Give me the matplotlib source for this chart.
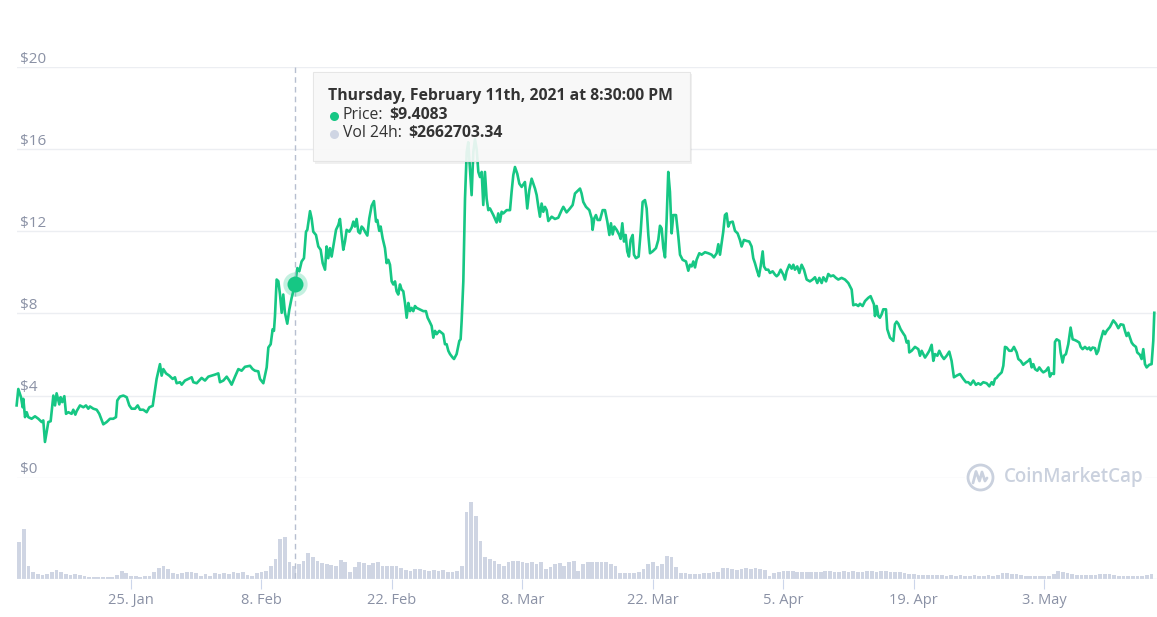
import numpy as np
import pandas as pd
import matplotlib
matplotlib.use("Agg")
import matplotlib.pyplot as plt
import matplotlib.dates as mdates
import matplotlib.transforms as mtransforms
from matplotlib.patches import Rectangle
from matplotlib.lines import Line2D

# ---------------- data ----------------
START = pd.Timestamp("2021-01-01")

# price samples: fractional days since 2021-01-01, price in USD
price_day = [
    11.73, 11.91, 12.20, 12.38, 12.45, 12.63, 12.81, 12.98, 13.34, 13.70,
    14.06, 14.42, 14.59, 14.77, 14.95, 15.13, 15.38, 15.67, 15.85, 16.02,
    16.31, 16.45, 16.63, 16.85, 17.03, 17.28, 17.63, 17.81, 18.03, 18.17,
    18.53, 18.89, 19.17, 19.42, 19.60, 19.96, 20.32, 20.60, 21.03, 21.39,
    21.75, 22.10, 22.39, 22.53, 22.82, 23.18, 23.54, 23.82, 24.07, 24.43,
    24.72, 24.97, 25.32, 25.68, 25.97, 26.33, 26.75, 27.11, 27.29, 27.47,
    27.76, 28.11, 28.47, 28.72, 28.90, 29.26, 29.44, 29.79, 30.15, 30.51,
    30.69, 31.05, 31.58, 31.94, 32.30, 32.66, 33.01, 33.37, 33.55, 33.91,
    34.27, 34.55, 34.80, 35.16, 35.52, 35.87, 36.23, 36.77, 37.05, 37.30,
    37.66, 37.84, 38.20, 38.56, 38.74, 38.99, 39.20, 39.34, 39.45, 39.63,
    39.81, 39.99, 40.17, 40.34, 40.52, 40.77, 40.99, 41.24, 41.60, 41.85,
    42.06, 42.31, 42.56, 42.78, 42.92, 43.21, 43.38, 43.56, 43.85, 44.10,
    44.35, 44.57, 44.82, 44.99, 45.17, 45.35, 45.53, 45.71, 46.00, 46.25,
    46.42, 46.60, 46.78, 46.96, 47.14, 47.43, 47.68, 47.86, 48.03, 48.21,
    48.39, 48.57, 48.75, 48.93, 49.11, 49.36, 49.57, 49.82, 50.07, 50.29,
    50.43, 50.64, 50.79, 51.00, 51.25, 51.43, 51.61, 51.79, 51.97, 52.15,
    52.33, 52.50, 52.68, 52.86, 53.04, 53.22, 53.40, 53.58, 53.76, 53.94,
    54.11, 54.29, 54.47, 54.65, 55.01, 55.37, 55.65, 55.83, 56.01, 56.26,
    56.44, 56.62, 56.80, 57.08, 57.33, 57.51, 57.69, 57.87, 58.05, 58.23,
    58.51, 58.66, 58.94, 59.23, 59.37, 59.48, 59.66, 59.84, 60.02, 60.19,
    60.37, 60.55, 60.73, 60.91, 61.09, 61.27, 61.45, 61.63, 61.80, 61.98,
    62.16, 62.34, 62.52, 62.88, 63.23, 63.41, 63.59, 63.77, 63.95, 64.31,
    64.67, 64.84, 65.02, 65.20, 65.45, 65.67, 65.92, 66.27, 66.52, 66.74,
    66.99, 67.35, 67.53, 67.71, 67.88, 68.06, 68.24, 68.42, 68.60, 68.78,
    69.14, 69.49, 69.85, 70.21, 70.39, 70.74, 71.10, 71.39, 71.64, 72.00,
    72.18, 72.35, 72.53, 72.82, 73.18, 73.43, 73.53, 73.71, 73.89, 74.07,
    74.32, 74.61, 74.86, 75.11, 75.33, 75.50, 75.68, 75.86, 76.11, 76.40,
    76.54, 76.72, 76.90, 77.08, 77.25, 77.43, 77.61, 77.83, 77.97, 78.18,
    78.47, 78.69, 78.90, 79.15, 79.33, 79.51, 79.69, 79.97, 80.33, 80.58,
    80.76, 80.94, 81.12, 81.30, 81.48, 81.65, 81.83, 82.01, 82.19, 82.48,
    82.73, 82.91, 83.19, 83.55, 83.80, 83.98, 84.16, 84.34, 84.52, 84.69,
    84.98, 85.23, 85.59, 85.95, 86.30, 86.55, 86.84, 87.02, 87.20, 87.38,
    87.55, 87.73, 87.91, 88.09, 88.27, 88.56, 88.81, 89.09, 89.34, 89.52,
    89.77, 90.06, 90.34, 90.59, 90.77, 90.95, 91.20, 91.38, 91.56, 91.78,
    91.92, 92.13, 92.38, 92.56, 92.85, 93.10, 93.28, 93.46, 93.71, 93.99,
    94.17, 94.35, 94.64, 94.89, 95.07, 95.24, 95.49, 95.71, 95.96, 96.21,
    96.50, 96.85, 97.14, 97.39, 97.64, 97.86, 98.11, 98.29, 98.58, 98.82,
    99.07, 99.36, 99.64, 99.89, 100.25, 100.61, 100.97, 101.33, 101.50, 101.79,
    102.04, 102.22, 102.50, 102.76, 103.11, 103.36, 103.58, 103.72, 103.83, 104.01,
    104.19, 104.36, 104.54, 104.72, 105.01, 105.15, 105.44, 105.80, 105.97, 106.15,
    106.33, 106.58, 106.87, 107.05, 107.23, 107.41, 107.51, 107.76, 108.12, 108.48,
    108.66, 108.84, 109.02, 109.20, 109.45, 109.66, 109.91, 110.09, 110.27, 110.52,
    110.73, 110.98, 111.23, 111.52, 111.80, 112.05, 112.30, 112.59, 112.95, 113.31,
    113.59, 113.84, 114.09, 114.38, 114.66, 114.91, 115.16, 115.45, 115.81, 116.10,
    116.35, 116.53, 116.70, 116.88, 117.06, 117.42, 117.60, 117.78, 117.95, 118.24,
    118.49, 118.74, 119.03, 119.21, 119.46, 119.74, 120.03, 120.28, 120.46, 120.64,
    120.82, 121.00, 121.25, 121.46, 121.71, 121.89, 122.18, 122.43, 122.60, 122.78,
    123.03, 123.14, 123.32, 123.61, 123.75, 123.96, 124.11, 124.32, 124.57, 124.82,
    125.04, 125.29, 125.47, 125.75, 125.90, 126.11, 126.36, 126.61, 126.82, 126.97,
    127.18, 127.43, 127.61, 127.79, 127.97, 128.15, 128.33, 128.51, 128.69, 129.04,
    129.40, 129.69, 129.94, 130.19, 130.48, 130.65, 130.83, 131.01, 131.19, 131.37,
    131.55, 131.83, 131.97, 132.26, 132.44, 132.62, 132.80, 132.98, 133.26, 133.51,
    133.69, 133.80,
]
price_usd = [
    3.52, 4.32, 3.92, 3.43, 3.84, 2.95, 3.19, 2.95, 2.87, 2.99,
    2.87, 2.71, 2.79, 1.74, 2.23, 2.71, 2.75, 4.00, 3.52, 4.11,
    3.57, 3.92, 3.68, 3.97, 3.11, 3.19, 3.11, 3.31, 3.07, 3.24,
    3.52, 3.43, 3.52, 3.36, 3.47, 3.36, 3.31, 3.11, 2.60, 2.71,
    2.87, 2.87, 2.95, 3.76, 3.95, 4.00, 3.92, 3.52, 3.36, 3.36,
    3.52, 3.31, 3.31, 3.19, 3.43, 3.50, 4.81, 5.53, 4.97, 5.29,
    5.08, 4.97, 4.81, 4.89, 4.60, 4.65, 4.53, 4.73, 4.81, 4.89,
    4.65, 4.60, 4.86, 4.73, 4.92, 4.97, 5.02, 5.08, 4.65, 4.73,
    4.92, 4.73, 4.53, 4.92, 5.29, 5.21, 5.40, 5.45, 5.29, 5.21,
    5.18, 4.81, 4.60, 5.37, 6.34, 6.50, 7.23, 7.15, 7.87, 9.65,
    9.57, 8.92, 8.03, 8.92, 8.03, 7.50, 8.19, 8.76, 9.41, 10.21,
    10.05, 10.53, 10.69, 11.98, 12.07, 12.98, 12.63, 11.98, 11.82, 11.26,
    11.10, 10.45, 10.13, 11.26, 10.69, 11.18, 10.77, 11.26, 12.07, 12.31,
    12.60, 11.82, 11.10, 11.50, 12.07, 11.98, 12.18, 12.47, 12.23, 12.60,
    11.98, 11.90, 12.23, 12.14, 11.98, 11.79, 12.63, 13.24, 13.47, 12.47,
    12.55, 12.02, 12.23, 11.66, 11.18, 10.45, 10.61, 10.37, 9.56, 9.41,
    9.56, 9.08, 8.92, 9.41, 9.16, 9.08, 8.51, 7.79, 8.51, 8.11,
    8.27, 8.11, 8.36, 8.27, 8.19, 8.11, 8.11, 7.79, 7.63, 7.39,
    6.82, 7.15, 6.99, 7.15, 7.06, 6.99, 6.50, 6.50, 6.18, 6.02,
    5.85, 5.78, 6.02, 6.66, 6.74, 7.63, 9.56, 13.59, 15.85, 16.34,
    15.05, 13.76, 15.85, 16.50, 16.01, 14.89, 14.64, 14.89, 13.28, 14.89,
    13.59, 13.03, 13.11, 12.79, 12.43, 12.87, 12.47, 12.95, 12.87, 13.03,
    13.03, 13.92, 14.73, 15.13, 14.80, 14.32, 14.16, 14.40, 13.11, 14.00,
    14.56, 14.08, 13.76, 13.19, 12.71, 13.35, 12.95, 13.19, 13.03, 12.50,
    12.71, 12.60, 12.66, 13.03, 13.19, 12.92, 13.11, 13.28, 13.84, 14.00,
    14.08, 13.84, 13.43, 13.19, 13.03, 12.63, 12.07, 12.63, 12.79, 12.55,
    12.55, 13.03, 13.03, 12.47, 11.82, 12.39, 11.85, 12.23, 12.07, 11.82,
    11.63, 12.39, 11.50, 11.82, 11.02, 10.77, 11.58, 11.82, 10.86, 10.69,
    10.77, 11.98, 13.43, 13.52, 13.11, 11.82, 10.93, 11.02, 11.18, 11.58,
    12.27, 12.14, 11.18, 10.73, 12.63, 14.89, 13.92, 11.90, 12.79, 12.79,
    11.74, 10.86, 10.61, 10.53, 10.08, 10.37, 10.29, 10.53, 10.24, 10.61,
    10.93, 10.86, 10.98, 10.93, 10.86, 10.73, 10.93, 11.37, 10.86, 11.42,
    11.98, 12.79, 12.87, 12.23, 12.43, 12.47, 12.02, 11.90, 11.58, 11.26,
    11.58, 11.53, 11.50, 11.26, 10.69, 10.45, 10.05, 9.81, 10.29, 11.02,
    10.29, 10.13, 10.13, 9.97, 10.05, 9.89, 9.81, 9.89, 10.13, 9.89,
    9.65, 10.05, 10.37, 10.18, 10.37, 10.13, 10.29, 9.97, 10.37, 10.13,
    9.65, 9.56, 9.65, 9.76, 9.48, 9.73, 9.48, 9.76, 9.56, 9.92,
    9.81, 9.85, 9.73, 9.65, 9.73, 9.65, 9.48, 9.16, 8.40, 8.44,
    8.36, 8.47, 8.36, 8.60, 8.76, 8.84, 8.60, 8.44, 7.87, 8.36,
    7.87, 7.79, 7.95, 8.20, 8.20, 7.23, 6.82, 6.66, 7.47, 7.60,
    7.50, 7.23, 7.02, 6.90, 6.58, 6.66, 6.10, 6.18, 6.37, 6.26,
    5.94, 6.18, 6.02, 5.85, 6.02, 6.18, 6.47, 5.69, 6.02, 5.94,
    6.18, 5.94, 5.78, 5.94, 6.14, 5.69, 4.89, 4.97, 5.05, 4.81,
    4.65, 4.65, 4.53, 4.73, 4.52, 4.60, 4.53, 4.65, 4.60, 4.45,
    4.65, 4.53, 4.81, 4.86, 4.97, 5.13, 5.45, 6.37, 6.34, 6.18,
    6.18, 6.37, 6.10, 5.78, 5.69, 5.50, 5.61, 5.69, 5.78, 5.37,
    5.53, 5.29, 5.21, 5.37, 5.21, 5.13, 5.21, 5.37, 4.92, 5.08,
    5.05, 6.61, 6.74, 6.66, 6.10, 5.61, 5.94, 6.02, 6.50, 7.31,
    6.74, 6.70, 6.66, 6.58, 6.37, 6.26, 6.37, 6.26, 6.34, 6.21,
    6.34, 6.31, 6.02, 6.18, 6.58, 6.86, 7.15, 6.99, 7.15, 7.34,
    7.66, 7.50, 7.28, 7.47, 7.44, 7.15, 6.90, 7.06, 6.82, 6.58,
    6.47, 6.37, 6.10, 5.98, 5.78, 6.26, 5.53, 5.37, 5.50, 5.53,
    6.66, 8.03,
]

# 24h volume (million USD), one bar every half day starting 2021-01-13 00:00
vol_first_day = 12.0
vol_step_days = 0.5
volume_musd = [
    7.84, 10.5, 2.8, 1.4, 1.05, 0.84, 1.05, 1.54, 1.96, 1.4,
    1.05, 0.84, 0.98, 0.84, 0.56, 0.42, 0.42, 0.49, 0.42, 0.35,
    0.42, 0.84, 1.75, 1.26, 0.7, 0.56, 0.49, 0.56, 0.63, 1.4,
    2.24, 2.66, 2.1, 1.26, 1.05, 1.26, 1.4, 1.54, 1.26, 0.7,
    0.98, 0.7, 1.26, 0.98, 1.26, 1.05, 1.4, 1.26, 1.54, 0.84,
    0.7, 1.26, 1.4, 1.75, 2.8, 4.2, 8.4, 8.75, 3.5, 2.66,
    3.15, 3.85, 5.46, 4.55, 3.85, 3.36, 3.15, 2.94, 2.8, 4.06,
    3.5, 1.4, 2.45, 3.5, 3.36, 2.94, 3.36, 3.5, 2.8, 2.66,
    2.8, 2.66, 2.24, 1.96, 1.75, 2.1, 2.1, 1.96, 1.75, 1.96,
    1.68, 1.96, 1.54, 1.4, 1.75, 2.8, 14.0, 16.1, 13.3, 8.05,
    4.55, 4.2, 3.85, 3.15, 2.8, 3.5, 3.85, 3.85, 3.64, 3.36,
    3.5, 3.15, 3.5, 2.1, 2.45, 3.15, 3.36, 2.8, 3.5, 3.85,
    1.75, 3.15, 3.5, 3.64, 3.64, 3.5, 3.5, 3.15, 2.8, 1.26,
    1.19, 1.26, 1.19, 1.4, 2.1, 3.15, 3.64, 2.8, 3.15, 4.9,
    4.55, 2.45, 1.26, 1.19, 1.12, 1.12, 1.12, 1.26, 1.19, 1.4,
    1.54, 2.24, 2.31, 2.1, 1.96, 2.1, 2.24, 2.1, 2.24, 2.1,
    1.96, 0.7, 1.26, 1.54, 1.68, 1.75, 1.61, 1.4, 1.54, 1.4,
    1.54, 1.4, 1.54, 1.68, 1.75, 1.4, 1.54, 1.68, 1.54, 1.68,
    1.54, 1.54, 1.68, 1.75, 1.54, 1.68, 1.75, 1.54, 1.4, 1.54,
    1.26, 1.05, 0.98, 0.84, 0.84, 0.77, 0.84, 0.77, 0.84, 0.7,
    0.77, 0.7, 0.77, 0.7, 0.7, 0.77, 0.7, 0.7, 0.77, 0.7,
    0.84, 1.26, 1.19, 1.05, 0.98, 0.84, 0.7, 0.63, 0.63, 0.7,
    0.63, 0.7, 0.98, 1.75, 1.4, 1.26, 0.98, 0.84, 0.84, 0.91,
    0.84, 0.84, 0.98, 1.12, 0.98, 0.84, 0.7, 0.7, 0.63, 0.7,
    0.63, 0.7, 0.84, 1.05,
]

y_tick_values = [0, 4, 8, 12, 16, 20]
y_tick_labels = ["$0", "$4", "$8", "$12", "$16", "$20"]
x_tick_dates = ["2021-01-25", "2021-02-08", "2021-02-22", "2021-03-08",
                "2021-03-22", "2021-04-05", "2021-04-19", "2021-05-03"]
x_tick_labels = ["25. Jan", "8. Feb", "22. Feb", "8. Mar",
                 "22. Mar", "5. Apr", "19. Apr", "3. May"]
view_start_day, view_end_day = 11.77, 134.09

hover_index = 108
tooltip_title = "Thursday, February 11th, 2021 at 8:30:00 PM"
tooltip_price = "$9.4083"
tooltip_volume = "$2662703.34"

# ---------------- style ----------------
W, H = 1157, 617
GREEN = "#16c784"
GRID = "#eceef2"
LABEL = "#8a91a5"
VOLC = "#cfd5e3"
TXT = "#333333"
plt.rcParams["font.family"] = ["Open Sans", "DejaVu Sans"]


def fx(px):
    return px / W


def fy(py):
    return 1 - py / H


fig = plt.figure(figsize=(W / 100, H / 100), dpi=100)
fig.patch.set_facecolor("white")
renderer = fig.canvas.get_renderer()

ax = fig.add_axes([fx(17), fy(477.7), fx(1157) - fx(17), fy(67) - fy(477.7)])
axv = fig.add_axes([fx(17), fy(579), fx(1157) - fx(17), fy(479) - fy(579)], sharex=ax)
for a in (ax, axv):
    a.set_facecolor("none")
    for s in a.spines.values():
        s.set_visible(False)

price_dates = START + pd.to_timedelta(price_day, unit="D")
vol_days = vol_first_day + vol_step_days * np.arange(len(volume_musd))
vol_dates = START + pd.to_timedelta(vol_days, unit="D")

# price panel
ax.set_ylim(0, 20)
ax.set_xlim(mdates.date2num(START + pd.Timedelta(days=view_start_day)),
            mdates.date2num(START + pd.Timedelta(days=view_end_day)))
for v in y_tick_values:
    ax.axhline(v, color=GRID, lw=1.0, zorder=0)
ax.tick_params(left=False, labelleft=False, bottom=False, labelbottom=False)
ylab_tr = mtransforms.offset_copy(ax.get_yaxis_transform(), fig=fig, x=3, y=8, units="dots")
for v, lab in zip(y_tick_values, y_tick_labels):
    ax.text(0, v, lab, transform=ylab_tr, ha="left", va="center",
            fontsize=11, color=LABEL)

ax.plot(price_dates, price_usd, color=GREEN, lw=1.9, solid_joinstyle="round",
        zorder=3, clip_on=False)

hx = mdates.date2num(price_dates[hover_index])
hp = price_usd[hover_index]

# volume panel
axv.bar(vol_dates, volume_musd, width=0.4, color=VOLC, linewidth=0, align="center")
axv.set_ylim(0, 21)
axv.set_yticks([])
axv.axhline(0, color="#e3e6ee", lw=1.0)
axv.set_xticks(mdates.date2num(pd.to_datetime(x_tick_dates)))
axv.set_xticklabels(x_tick_labels)
axv.tick_params(axis="x", length=7.5, width=0.8, color="#ccd6eb", labelcolor=LABEL,
                labelsize=10.5, pad=2.5)

# hover crosshair + marker
blend = mtransforms.blended_transform_factory(ax.transData, fig.transFigure)
fig.add_artist(Line2D([hx, hx], [fy(67), fy(579)], transform=blend, color="#b7bfd0",
                      lw=1.0, ls=(0, (4, 3)), zorder=2))
fig.add_artist(Line2D([hx], [hp], marker="o", ms=17.5, color=GREEN, alpha=0.25, mew=0,
                      linestyle="none", transform=ax.transData, zorder=3))
fig.add_artist(Line2D([hx], [hp], marker="o", ms=11.5, color=GREEN, mew=0,
                      linestyle="none", transform=ax.transData, zorder=3.5))

# tooltip
fig.add_artist(Rectangle((fx(315), fy(163.5)), fx(690) - fx(313), fy(72) - fy(161),
                         transform=fig.transFigure, facecolor="black", alpha=0.06,
                         edgecolor="none", zorder=5))
fig.add_artist(Rectangle((fx(313), fy(161)), fx(690) - fx(313), fy(72) - fy(161),
                         transform=fig.transFigure, facecolor="#fafafa", alpha=0.9,
                         edgecolor="#e4e4e4", lw=0.8, zorder=6))
t_title = fig.text(fx(328), fy(96), tooltip_title, fontsize=10, fontweight="bold",
                   color=TXT, va="center", ha="left", zorder=7)
tw = t_title.get_window_extent(renderer).width
tip_fs = 10 * 344.0 / tw
t_title.set_fontsize(tip_fs)
fig.add_artist(Line2D([fx(334)], [fy(115.5)], marker="o", ms=6.5, color=GREEN, mew=0,
                      transform=fig.transFigure, zorder=7))
fig.add_artist(Line2D([fx(334)], [fy(133.5)], marker="o", ms=6.5, color=VOLC, mew=0,
                      transform=fig.transFigure, zorder=7))
t_p = fig.text(fx(343), fy(115), "Price:", fontsize=tip_fs, color=TXT,
               va="center", ha="left", zorder=7)
t_v = fig.text(fx(343), fy(133), "Vol 24h:", fontsize=tip_fs, color=TXT,
               va="center", ha="left", zorder=7)
bp = t_p.get_window_extent(renderer)
bv = t_v.get_window_extent(renderer)
fig.text((bp.x1 + 6) / W, fy(115), tooltip_price, fontsize=tip_fs, fontweight="bold",
         color=TXT, va="center", ha="left", zorder=7)
fig.text((bv.x1 + 6) / W, fy(133), tooltip_volume, fontsize=tip_fs, fontweight="bold",
         color=TXT, va="center", ha="left", zorder=7)

# watermark
WM = "#cad1de"
fig.add_artist(Rectangle((fx(965), fy(491)), fx(1145) - fx(965), fy(463) - fy(491),
                         transform=fig.transFigure, facecolor="white", edgecolor="none",
                         zorder=2))
fig.add_artist(Line2D([fx(980)], [fy(477)], marker="o", ms=18, mfc="white", mec=WM,
                      mew=2.0, transform=fig.transFigure, zorder=3))
wave_x = [973, 976, 979.5, 982, 985, 987]
wave_y = [483, 471.5, 481, 472, 481, 478]
fig.add_artist(Line2D([fx(v) for v in wave_x], [fy(v) for v in wave_y], color=WM, lw=2.0,
                      solid_joinstyle="round", solid_capstyle="round",
                      transform=fig.transFigure, zorder=3))
fig.text(fx(1004), fy(477), "CoinMarketCap", fontsize=13.5, fontweight="semibold",
         color=WM, va="center", ha="left", zorder=3)

fig.savefig("out.png", dpi=100, facecolor="white")
